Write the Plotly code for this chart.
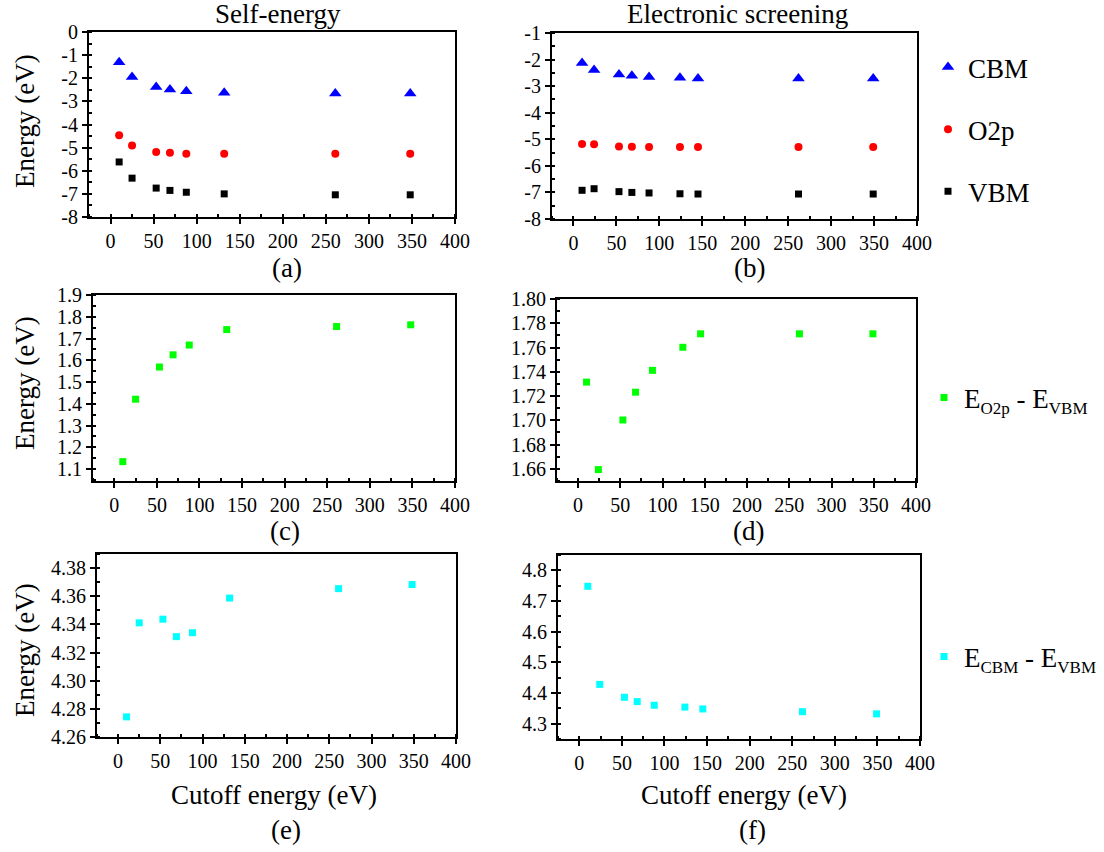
import plotly.graph_objects as go

# ---------------- data ----------------
x_self = [10, 25, 53, 69, 88, 132, 261, 348]
self_cbm = [-1.31, -1.95, -2.38, -2.49, -2.56, -2.63, -2.66, -2.66]
self_o2p = [-4.47, -4.91, -5.19, -5.22, -5.26, -5.26, -5.27, -5.27]
self_vbm = [-5.62, -6.32, -6.75, -6.85, -6.93, -7.00, -7.04, -7.04]

x_scr = [10, 24, 53, 68, 88, 124, 145, 262, 349]
scr_cbm = [-2.13, -2.39, -2.56, -2.61, -2.66, -2.68, -2.71, -2.71, -2.71]
scr_o2p = [-5.18, -5.19, -5.27, -5.28, -5.29, -5.29, -5.29, -5.29, -5.29]
scr_vbm = [-6.92, -6.86, -6.97, -7.00, -7.02, -7.05, -7.06, -7.06, -7.06]

self_o2p_vbm = [1.134, 1.421, 1.569, 1.625, 1.670, 1.741, 1.755, 1.763]
scr_o2p_vbm = [1.7315, 1.6594, 1.7003, 1.7232, 1.7412, 1.7602, 1.7713, 1.7713, 1.7713]
self_cbm_vbm = [4.2743, 4.3411, 4.3437, 4.3313, 4.3341, 4.3587, 4.3654, 4.3683]
scr_cbm_vbm = [4.748, 4.428, 4.386, 4.372, 4.360, 4.354, 4.348, 4.339, 4.332]

x_ticks = [0, 50, 100, 150, 200, 250, 300, 350, 400]
ya_ticks = [0, -1, -2, -3, -4, -5, -6, -7, -8]
ya_labels = ["0", "-1", "-2", "-3", "-4", "-5", "-6", "-7", "-8"]
yb_ticks = [-1, -2, -3, -4, -5, -6, -7, -8]
yb_labels = ["-1", "-2", "-3", "-4", "-5", "-6", "-7", "-8"]

col_titles = ["Self-energy", "Electronic screening"]
panel_labels = ["(a)", "(b)", "(c)", "(d)", "(e)", "(f)"]

SUB = "<sub><span style='font-size:17px'>%s</span></sub>"
name_o2p_vbm = "E" + SUB % "O2p" + " - E" + SUB % "VBM"
name_cbm_vbm = "E" + SUB % "CBM" + " - E" + SUB % "VBM"

# ---------------- layout helpers ----------------
W, H = 1104, 852
FONT = "'Liberation Serif', 'DejaVu Serif', 'Times New Roman', serif"


def px_x(p):
    return p / W


def px_y(p):
    return 1 - p / H


# panel frames in pixels: (left, right, top, bottom)
frames = [
    (89, 455, 32, 217),
    (552, 917, 33, 219),
    (93, 455, 295, 481),
    (557, 916, 299, 481),
    (97, 456, 554, 737),
    (558, 920, 555, 739),
]

fig = go.Figure()

def add(xs, ys, idx, name, color, symbol, size, legend=None, show=False):
    ax = "" if idx == 1 else str(idx)
    fig.add_trace(go.Scatter(
        x=xs, y=ys, mode="markers", name=name,
        marker=dict(color=color, symbol=symbol, size=size, line=dict(width=0)),
        xaxis="x" + ax, yaxis="y" + ax,
        showlegend=show, legend=legend if legend else "legend",
        legendgroup=name,
    ))

add(x_self, self_cbm, 1, "CBM", "#0000FF", "triangle-up", 11, "legend", True)
add(x_self, self_o2p, 1, "O2p", "#FF0000", "circle", 8, "legend", True)
add(x_self, self_vbm, 1, "VBM", "#000000", "square", 7, "legend", True)
add(x_scr, scr_cbm, 2, "CBM", "#0000FF", "triangle-up", 11)
add(x_scr, scr_o2p, 2, "O2p", "#FF0000", "circle", 8)
add(x_scr, scr_vbm, 2, "VBM", "#000000", "square", 7)
add(x_self, self_o2p_vbm, 3, name_o2p_vbm, "#00FF00", "square", 7, "legend2", True)
add(x_scr, scr_o2p_vbm, 4, name_o2p_vbm, "#00FF00", "square", 7, "legend2")
add(x_self, self_cbm_vbm, 5, name_cbm_vbm, "#00FFFF", "square", 7, "legend3", True)
add(x_scr, scr_cbm_vbm, 6, name_cbm_vbm, "#00FFFF", "square", 7, "legend3")

yspecs = [
    dict(range=[-8, 0], tickvals=ya_ticks, ticktext=ya_labels, minor=0.5),
    dict(range=[-8, -1], tickvals=yb_ticks, ticktext=yb_labels, minor=0.5),
    dict(range=[1.045, 1.9], dtick=0.1, tick0=1.1, tickformat=".1f", minor=0.05),
    dict(range=[1.65, 1.80], dtick=0.02, tick0=1.66, tickformat=".2f", minor=0.01),
    dict(range=[4.26, 4.39], dtick=0.02, tick0=4.26, tickformat=".2f", minor=0.01),
    dict(range=[4.25, 4.85], dtick=0.1, tick0=4.3, tickformat=".1f", minor=0.05),
]

layout = dict(
    width=W, height=H,
    margin=dict(l=0, r=0, t=0, b=0, autoexpand=False),
    paper_bgcolor="white", plot_bgcolor="white",
    font=dict(family=FONT, size=20, color="black"),
)

for i, (fr, ys) in enumerate(zip(frames, yspecs), start=1):
    l, r, t, b = fr
    sfx = "" if i == 1 else str(i)
    common = dict(
        showline=True, linewidth=2, linecolor="black", mirror=True,
        ticks="outside", ticklen=5, tickwidth=1.5, tickcolor="black",
        showgrid=False, zeroline=False, automargin=False,
        tickfont=dict(family=FONT, size=20, color="black"),
    )
    xa = dict(common)
    xa.update(domain=[px_x(l), px_x(r)], range=[-25, 400], tickvals=x_ticks,
              anchor="y" + sfx,
              minor=dict(ticks="inside", ticklen=3, tickwidth=1.5, tickcolor="black",
                         dtick=25, tick0=0, showgrid=False))
    ya = dict(common)
    ya.update(domain=[px_y(b), px_y(t)], range=ys["range"], anchor="x" + sfx,
              minor=dict(ticks="inside", ticklen=3, tickwidth=1.5, tickcolor="black",
                         dtick=ys["minor"], showgrid=False))
    if "tickvals" in ys:
        ya.update(tickvals=ys["tickvals"], ticktext=ys["ticktext"])
    else:
        ya.update(dtick=ys["dtick"], tick0=ys["tick0"], tickformat=ys["tickformat"])
        ya["minor"]["tick0"] = ys["tick0"]
    if ys["range"][0] < -1:
        ya["minor"]["tick0"] = 0
    layout["xaxis" + sfx] = xa
    layout["yaxis" + sfx] = ya

leg_common = dict(bgcolor="rgba(0,0,0,0)", font=dict(family=FONT, size=27, color="black"),
                  xanchor="left", itemclick=False)
layout["legend"] = dict(leg_common, x=px_x(928), y=px_y(43), yanchor="top",
                        traceorder="grouped", tracegroupgap=24)
layout["legend2"] = dict(leg_common, x=px_x(924), y=px_y(398), yanchor="middle")
layout["legend3"] = dict(leg_common, x=px_x(924), y=px_y(657), yanchor="middle")

fig.update_layout(**layout)

ann = []
def text(x, y, s, size=27, angle=0):
    ann.append(dict(x=px_x(x), y=px_y(y), xref="paper", yref="paper", text=s,
                    showarrow=False, textangle=angle, xanchor="center", yanchor="middle",
                    font=dict(family=FONT, size=size, color="black")))

text(278, 14, col_titles[0])
text(737, 14, col_titles[1])
for lab, (x, y) in zip(panel_labels, [(287, 268), (749, 268), (285, 531), (748, 531), (286, 830), (752, 830)]):
    text(x, y, lab)
for y in [121, 383, 650]:
    text(25, y, "Energy (eV)", angle=-90)
text(274, 795, "Cutoff energy (eV)")
text(744, 795, "Cutoff energy (eV)")
fig.update_layout(annotations=ann)

fig.write_html("out.html", config={"displayModeBar": False},
               post_script="document.body.style.margin='0';document.body.style.overflow='hidden';")
